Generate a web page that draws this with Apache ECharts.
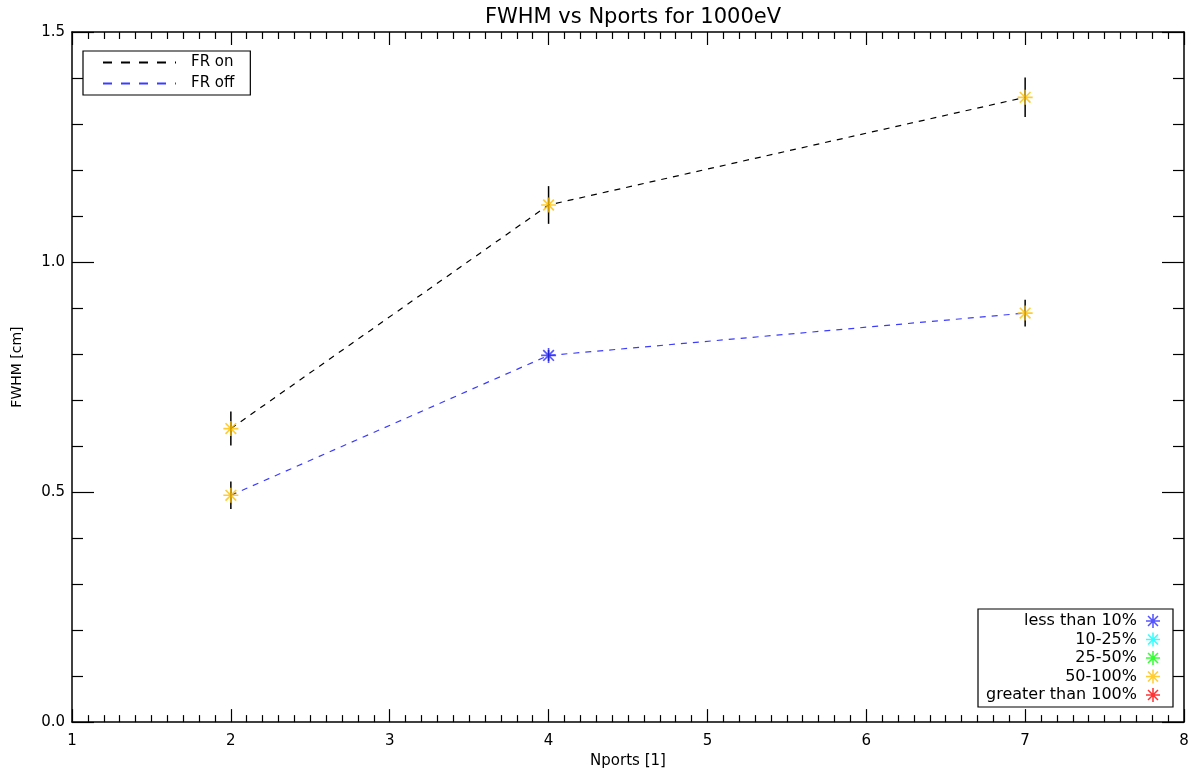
<!DOCTYPE html>
<html>
<head>
<meta charset="utf-8">
<script src="https://cdn.jsdelivr.net/npm/echarts@6/dist/echarts.min.js"></script>
<style>
  html, body { margin: 0; padding: 0; background: #fff; }
  #chart { width: 1193px; height: 774px; }
</style>
</head>
<body>
<div id="chart"></div>
<script>
// data
const nports = [2, 4, 7]
const fwhmOn = [0.638, 1.124, 1.358]
const errOn = [0.037, 0.041, 0.043]
const classOn = ['50-100%', '50-100%', '50-100%']
const fwhmOff = [0.493, 0.797, 0.889]
const errOff = [0.030, 0.012, 0.029]
const classOff = ['50-100%', 'less than 10%', '50-100%']

const classNames = ['less than 10%', '10-25%', '25-50%', '50-100%', 'greater than 100%']
const classColors = ['#2a2aff', '#00ffff', '#00ff00', '#ffc000', '#ff0000']

const font = 'DejaVu Sans'

// asterisk made of four thin bars (plus + cross)
const STAR = 'path://M0 8.9H20V11.1H0Z M8.9 0H11.1V20H8.9Z ' +
  'M3.68 2.12L17.88 16.32L16.32 17.88L2.12 3.68Z ' +
  'M17.88 3.68L3.68 17.88L2.12 16.32L16.32 2.12Z'

const pairs = (ys) => nports.map((x, i) => [x, ys[i]])
const withErr = (ys, es) => nports.map((x, i) => [x, ys[i], es[i]])

function starsFor (name) {
  const out = []
  nports.forEach((x, i) => {
    if (classOn[i] === name) out.push([x, fwhmOn[i]])
    if (classOff[i] === name) out.push([x, fwhmOff[i]])
  })
  return out
}

function errorBar (params, api) {
  const x = api.value(0)
  const y = api.value(1)
  const e = api.value(2)
  const a = api.coord([x, y - e])
  const b = api.coord([x, y + e])
  return {
    type: 'line',
    shape: { x1: a[0], y1: a[1], x2: b[0], y2: b[1] },
    style: { stroke: '#000', lineWidth: 1.5 }
  }
}

const axisCommon = {
  type: 'value',
  axisLine: { show: true, onZero: false, lineStyle: { color: '#000', width: 1.5 } },
  splitLine: { show: false },
  axisTick: { show: true, inside: true, lineStyle: { color: '#000', width: 1.2 } },
  minorTick: { show: true, lineStyle: { color: '#000', width: 1.2 } }
}

const xBase = {
  ...axisCommon,
  min: 1, max: 8, interval: 1,
  axisTick: { ...axisCommon.axisTick, length: 13 },
  minorTick: { ...axisCommon.minorTick, splitNumber: 10, length: 7 }
}
const yBase = {
  ...axisCommon,
  min: 0, max: 1.5, interval: 0.5,
  axisTick: { ...axisCommon.axisTick, length: 22 },
  minorTick: { ...axisCommon.minorTick, splitNumber: 5, length: 11 }
}

const chart = echarts.init(document.getElementById('chart'), null, { renderer: 'canvas' })

const series = [
  {
    name: 'FR on', type: 'line', data: pairs(fwhmOn), symbol: 'none', z: 2,
    color: '#000',
    lineStyle: { color: '#000', width: 1.2, type: [6, 6] }
  },
  {
    name: 'FR off', type: 'line', data: pairs(fwhmOff), symbol: 'none', z: 2,
    color: '#3c3cff',
    lineStyle: { color: '#3c3cff', width: 1.2, type: [6, 6] }
  },
  {
    name: 'err on', type: 'custom', renderItem: errorBar, z: 3, silent: true,
    encode: { x: 0, y: 1 }, data: withErr(fwhmOn, errOn)
  },
  {
    name: 'err off', type: 'custom', renderItem: errorBar, z: 3, silent: true,
    encode: { x: 0, y: 1 }, data: withErr(fwhmOff, errOff)
  }
]
classNames.forEach((name, i) => {
  series.push({
    name, type: 'scatter', data: starsFor(name), symbol: STAR, symbolSize: 15, z: 4,
    itemStyle: { color: classColors[i] }
  })
})

chart.setOption({
  animation: false,
  backgroundColor: '#fff',
  textStyle: { fontFamily: font },
  title: {
    text: 'FWHM vs Nports for 1000eV',
    left: 628, top: 2, textAlign: 'center',
    textStyle: { fontFamily: font, fontSize: 21, fontWeight: 'normal', color: '#000' }
  },
  grid: { left: 72, right: 9, top: 32, bottom: 50, containLabel: false },
  xAxis: [
    {
      ...xBase, position: 'bottom',
      name: 'Nports [1]', nameLocation: 'middle', nameGap: 30,
      nameTextStyle: { fontFamily: font, fontSize: 15, color: '#000' },
      axisLabel: { color: '#000', fontFamily: font, fontSize: 15, margin: 12 }
    },
    { ...xBase, position: 'top', axisLabel: { show: false } }
  ],
  yAxis: [
    {
      ...yBase, position: 'left',
      name: 'FWHM [cm]', nameLocation: 'middle', nameGap: 48, nameRotate: 90,
      nameTextStyle: { fontFamily: font, fontSize: 14, color: '#000', padding: [0, 0, 0, 20] },
      axisLabel: { color: '#000', fontFamily: font, fontSize: 15, margin: 7,
        formatter: (v) => v.toFixed(1) }
    },
    { ...yBase, position: 'right', axisLabel: { show: false } }
  ],
  legend: [
    {
      data: ['FR on', 'FR off'],
      orient: 'vertical', left: 83, top: 51,
      borderColor: '#000', borderWidth: 1.2, borderRadius: 0,
      padding: [4, 16, 4, 19],
      itemWidth: 73, itemHeight: 14, itemGap: 6,
      selectedMode: false,
      itemStyle: { opacity: 0, color: 'transparent', borderWidth: 0 },
      lineStyle: { type: [9, 9] },
      textStyle: { fontFamily: font, fontSize: 15, color: '#000', padding: [0, 0, 0, 10] }
    },
    {
      data: classNames,
      orient: 'vertical', right: 20, bottom: 67, align: 'right',
      borderColor: '#000', borderWidth: 1.2, borderRadius: 0,
      padding: [4, 13, 4, 8],
      itemWidth: 14, itemHeight: 14, itemGap: 2.5,
      selectedMode: false,
      textStyle: { fontFamily: font, fontSize: 16, lineHeight: 14, color: '#000', padding: [0, 4, 0, 0] }
    }
  ],
  series
})
</script>
</body>
</html>
